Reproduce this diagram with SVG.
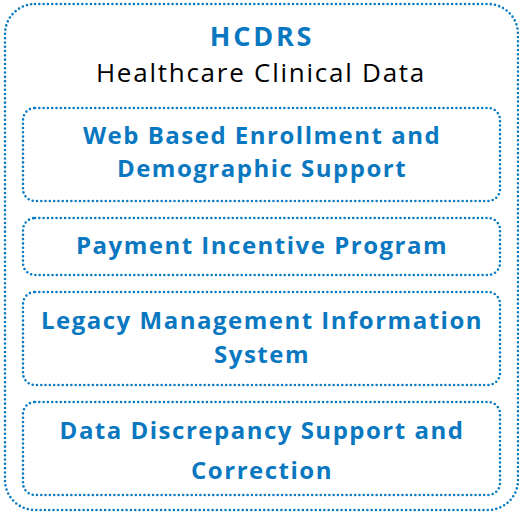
<svg xmlns="http://www.w3.org/2000/svg" width="519" height="512" viewBox="0 0 519 512">
<style>
.dot{fill:none;stroke:#0a7bc2;stroke-width:2.6;stroke-linecap:round;stroke-dasharray:0 4.3}
.b{font-family:"Open Sans","Liberation Sans",sans-serif;font-weight:700;fill:#0a78c0;font-size:24px;letter-spacing:1.5px;text-anchor:middle}
.t{font-family:"Open Sans","Liberation Sans",sans-serif;font-size:26px;letter-spacing:1.75px;fill:#000;text-anchor:middle}
</style>
<rect width="519" height="512" fill="#fff"/>
<g id="hcdrs">
<rect class="dot" x="5" y="4" width="513" height="506" rx="30"/>
<text class="b" x="262" y="46" style="font-size:27px;letter-spacing:2.8px">HCDRS</text>
<text class="t" x="261" y="82">Healthcare Clinical Data</text>
</g>
<g id="web">
<rect class="dot" x="23" y="108" width="477" height="93" rx="12"/>
<text class="b" x="262" y="144">Web Based Enrollment and</text>
<text class="b" x="262" y="177">Demographic Support</text>
</g>
<g id="payment">
<rect class="dot" x="23" y="218" width="477" height="57" rx="12"/>
<text class="b" x="262" y="254">Payment Incentive Program</text>
</g>
<g id="legacy">
<rect class="dot" x="23" y="292" width="477" height="93" rx="12"/>
<text class="b" x="262" y="329">Legacy Management Information</text>
<text class="b" x="262" y="363">System</text>
</g>
<g id="data">
<rect class="dot" x="23" y="402" width="477" height="93" rx="12"/>
<text class="b" x="262" y="439">Data Discrepancy Support and</text>
<text class="b" x="262" y="479">Correction</text>
</g>
<g id="connectors"></g>
</svg>
